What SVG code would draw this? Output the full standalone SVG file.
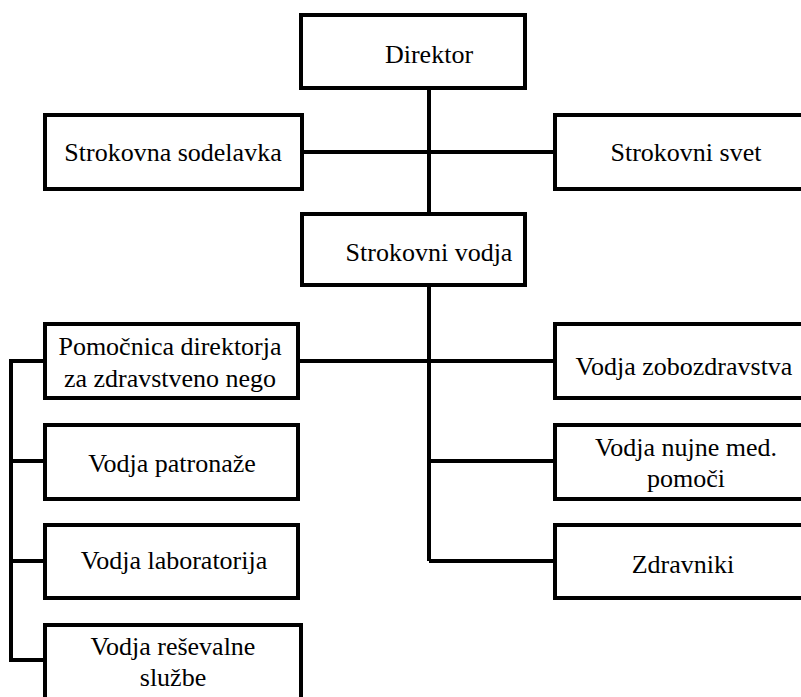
<svg xmlns="http://www.w3.org/2000/svg" width="801" height="697" viewBox="0 0 801 697">
  <style>
    .box { fill: #ffffff; stroke: #000000; stroke-width: 4; }
    .lbl { font-family: 'Liberation Serif', 'Times New Roman', 'DejaVu Serif', serif; font-size: 26px; fill: #000000; text-anchor: middle; }
    .wire { fill: none; stroke: #000000; stroke-width: 4; }
  </style>
  <rect width="801" height="697" fill="#ffffff"/>

  <!-- connectors: main trunk, side branches and the left-hand bus -->
  <g id="connectors">
    <line class="wire" x1="429" y1="88" x2="429" y2="214"/>
    <line class="wire" x1="302" y1="152" x2="555" y2="152"/>
    <line class="wire" x1="429" y1="285" x2="429" y2="561"/>
    <line class="wire" x1="298" y1="361" x2="555" y2="361"/>
    <line class="wire" x1="429" y1="461" x2="555" y2="461"/>
    <line class="wire" x1="429" y1="561" x2="555" y2="561"/>
    <path class="wire" d="M45,361 H11 V660 H45"/>
    <line class="wire" x1="11" y1="461" x2="45" y2="461"/>
    <line class="wire" x1="11" y1="561" x2="45" y2="561"/>
  </g>

  <g id="direktor">
    <rect class="box" x="301" y="15" width="224" height="73"/>
    <text class="lbl" x="429" y="63">Direktor</text>
  </g>

  <g id="strokovna-sodelavka">
    <rect class="box" x="45" y="115" width="257" height="74"/>
    <text class="lbl" x="173" y="161">Strokovna sodelavka</text>
  </g>

  <g id="strokovni-svet">
    <rect class="box" x="555" y="115" width="262" height="74"/>
    <text class="lbl" x="686" y="161">Strokovni svet</text>
  </g>

  <g id="strokovni-vodja">
    <rect class="box" x="302" y="214" width="223" height="71"/>
    <text class="lbl" x="429" y="261">Strokovni vodja</text>
  </g>

  <g id="pomocnica-direktorja">
    <rect class="box" x="45" y="324" width="253" height="74"/>
    <text class="lbl" x="170" y="355">Pomočnica direktorja</text>
    <text class="lbl" x="170" y="387">za zdravstveno nego</text>
  </g>

  <g id="vodja-zobozdravstva">
    <rect class="box" x="555" y="324" width="262" height="74"/>
    <text class="lbl" x="684" y="375">Vodja zobozdravstva</text>
  </g>

  <g id="vodja-patronaze">
    <rect class="box" x="45" y="425" width="253" height="74"/>
    <text class="lbl" x="172" y="472">Vodja patronaže</text>
  </g>

  <g id="vodja-nujne-med-pomoci">
    <rect class="box" x="555" y="425" width="262" height="74"/>
    <text class="lbl" x="686" y="456">Vodja nujne med.</text>
    <text class="lbl" x="686" y="487">pomoči</text>
  </g>

  <g id="vodja-laboratorija">
    <rect class="box" x="45" y="525" width="253" height="73"/>
    <text class="lbl" x="174" y="569">Vodja laboratorija</text>
  </g>

  <g id="zdravniki">
    <rect class="box" x="555" y="525" width="262" height="73"/>
    <text class="lbl" x="683" y="573">Zdravniki</text>
  </g>

  <g id="vodja-resevalne-sluzbe">
    <rect class="box" x="45" y="625" width="256" height="80"/>
    <text class="lbl" x="173" y="655">Vodja reševalne</text>
    <text class="lbl" x="173" y="686">službe</text>
  </g>
</svg>
